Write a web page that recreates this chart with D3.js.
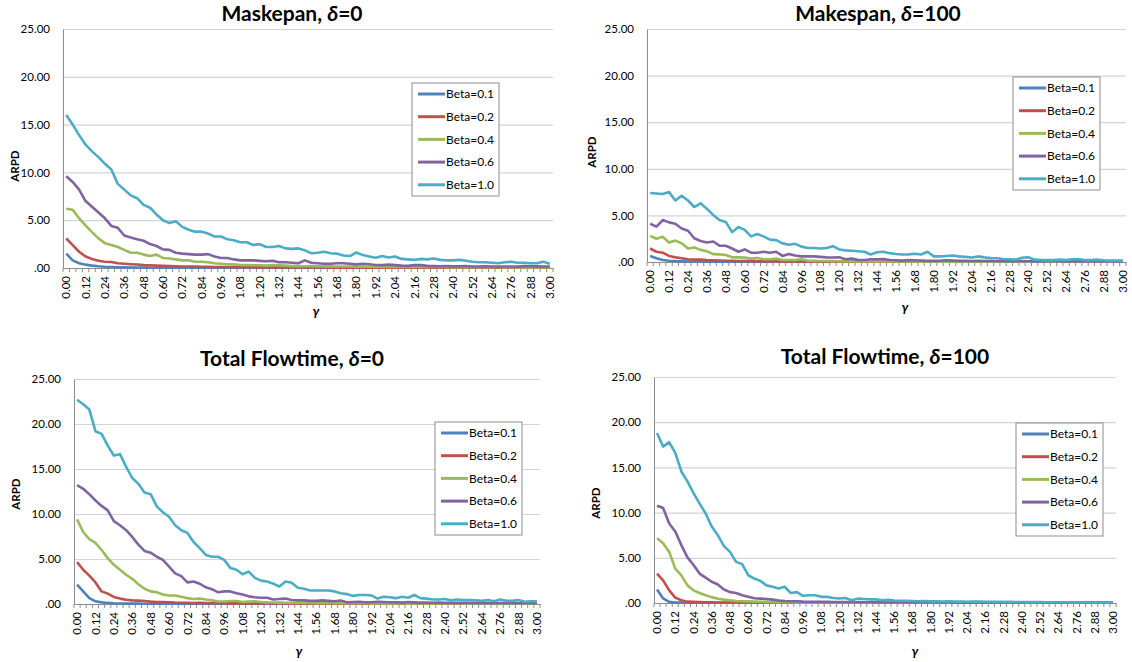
<!DOCTYPE html>
<html>
<head>
<meta charset="utf-8">
<script src="https://cdn.jsdelivr.net/npm/d3@7"></script>
<style>
  body { margin: 0; background: #fff; }
  svg { display: block; font-family: Lato, "Open Sans", sans-serif; }
</style>
</head>
<body>
<svg id="chart" width="1132" height="662"></svg>
<script>
// x categories (gamma)
const gamma = [0.00,0.04,0.08,0.12,0.16,0.20,0.24,0.28,0.32,0.36,
  0.40,0.44,0.48,0.52,0.56,0.60,0.64,0.68,0.72,0.76,
  0.80,0.84,0.88,0.92,0.96,1.00,1.04,1.08,1.12,1.16,
  1.20,1.24,1.28,1.32,1.36,1.40,1.44,1.48,1.52,1.56,
  1.60,1.64,1.68,1.72,1.76,1.80,1.84,1.88,1.92,1.96,
  2.00,2.04,2.08,2.12,2.16,2.20,2.24,2.28,2.32,2.36,
  2.40,2.44,2.48,2.52,2.56,2.60,2.64,2.68,2.72,2.76,
  2.80,2.84,2.88,2.92,2.96,3.00];

const betaLabels = ["Beta=0.1", "Beta=0.2", "Beta=0.4", "Beta=0.6", "Beta=1.0"];
const betaColors = ["#4F81BD", "#C0504D", "#9BBB59", "#8064A2", "#4BACC6"];
const yTicks = [0, 5, 10, 15, 20, 25];

// Makespan, delta = 0
const ms0_b01 = [1.50,0.80,0.50,0.35,0.25,0.18,0.13,0.10,0.08,0.07,
  0.06,0.05,0.05,0.04,0.04,0.04,0.03,0.03,0.03,0.03,
  0.03,0.03,0.03,0.03,0.02,0.02,0.02,0.02,0.02,0.02,
  0.02,0.02,0.02,0.02,0.02,0.02,0.02,0.02,0.02,0.02,
  0.02,0.02,0.02,0.02,0.02,0.02,0.02,0.02,0.02,0.02,
  0.02,0.02,0.02,0.02,0.02,0.02,0.02,0.02,0.02,0.02,
  0.02,0.02,0.02,0.02,0.02,0.02,0.02,0.02,0.02,0.02,
  0.02,0.02,0.02,0.02,0.02,0.02];
const ms0_b02 = [3.10,2.40,1.70,1.20,0.95,0.75,0.65,0.62,0.50,0.45,
  0.40,0.36,0.30,0.28,0.25,0.22,0.20,0.18,0.16,0.15,
  0.14,0.13,0.12,0.11,0.10,0.10,0.09,0.09,0.08,0.08,
  0.07,0.07,0.07,0.06,0.06,0.06,0.05,0.05,0.05,0.05,
  0.05,0.04,0.04,0.04,0.04,0.04,0.04,0.04,0.03,0.03,
  0.03,0.03,0.03,0.03,0.03,0.03,0.03,0.03,0.03,0.03,
  0.03,0.03,0.03,0.03,0.03,0.03,0.03,0.03,0.02,0.02,
  0.02,0.02,0.02,0.02,0.02,0.02];
const ms0_b04 = [6.20,6.10,5.20,4.45,3.75,3.10,2.60,2.40,2.20,1.90,
  1.60,1.60,1.40,1.25,1.40,1.05,1.00,0.90,0.80,0.80,
  0.65,0.65,0.60,0.50,0.45,0.40,0.38,0.32,0.30,0.28,
  0.28,0.25,0.30,0.28,0.25,0.20,0.20,0.18,0.20,0.18,
  0.17,0.18,0.16,0.15,0.15,0.14,0.15,0.13,0.12,0.13,
  0.12,0.12,0.11,0.12,0.10,0.10,0.11,0.10,0.10,0.09,
  0.10,0.09,0.09,0.08,0.09,0.08,0.08,0.08,0.07,0.08,
  0.07,0.07,0.08,0.07,0.07,0.07];
const ms0_b06 = [9.60,9.00,8.20,7.00,6.40,5.80,5.20,4.40,4.20,3.40,
  3.20,3.00,2.85,2.50,2.30,1.95,1.90,1.60,1.50,1.45,
  1.40,1.40,1.45,1.20,1.05,1.05,0.90,0.80,0.80,0.80,
  0.75,0.70,0.75,0.60,0.60,0.55,0.50,0.80,0.55,0.50,
  0.45,0.45,0.50,0.50,0.45,0.38,0.45,0.40,0.32,0.30,
  0.35,0.30,0.25,0.22,0.30,0.30,0.22,0.20,0.18,0.20,
  0.17,0.18,0.20,0.16,0.15,0.17,0.15,0.14,0.16,0.15,
  0.14,0.20,0.18,0.17,0.16,0.15];
const ms0_b10 = [16.0,15.0,13.9,12.9,12.2,11.6,10.9,10.3,8.80,8.20,
  7.60,7.30,6.60,6.30,5.60,5.00,4.70,4.90,4.30,4.00,
  3.80,3.80,3.60,3.30,3.30,3.00,2.90,2.70,2.70,2.40,
  2.50,2.20,2.20,2.30,2.05,2.00,2.05,1.85,1.55,1.60,
  1.70,1.55,1.50,1.30,1.25,1.62,1.35,1.20,1.08,1.25,
  1.10,1.20,0.95,0.90,0.85,0.95,0.90,1.00,0.85,0.80,
  0.80,0.85,0.75,0.65,0.60,0.60,0.55,0.50,0.60,0.65,
  0.55,0.55,0.50,0.50,0.65,0.45];

// Makespan, delta = 100
const ms100_b01 = [0.65,0.40,0.22,0.14,0.10,0.08,0.06,0.05,0.05,0.04,
  0.04,0.04,0.03,0.03,0.03,0.03,0.03,0.03,0.03,0.03,
  0.02,0.02,0.02,0.02,0.02,0.02,0.02,0.02,0.02,0.02,
  0.02,0.02,0.02,0.02,0.02,0.02,0.02,0.02,0.02,0.02,
  0.02,0.02,0.02,0.02,0.02,0.02,0.02,0.02,0.02,0.02,
  0.02,0.02,0.02,0.02,0.02,0.02,0.02,0.02,0.02,0.02,
  0.02,0.02,0.02,0.02,0.02,0.02,0.02,0.02,0.02,0.02,
  0.02,0.02,0.02,0.02,0.02,0.02];
const ms100_b02 = [1.45,1.10,1.00,0.65,0.50,0.40,0.30,0.25,0.25,0.20,
  0.18,0.15,0.13,0.12,0.10,0.10,0.09,0.08,0.08,0.07,
  0.07,0.06,0.06,0.06,0.05,0.05,0.05,0.05,0.04,0.04,
  0.04,0.04,0.04,0.04,0.04,0.03,0.03,0.03,0.03,0.03,
  0.03,0.03,0.03,0.03,0.03,0.03,0.03,0.03,0.03,0.03,
  0.03,0.03,0.03,0.03,0.03,0.03,0.03,0.03,0.03,0.03,
  0.03,0.03,0.03,0.03,0.03,0.03,0.03,0.03,0.03,0.03,
  0.03,0.03,0.03,0.03,0.03,0.03];
const ms100_b04 = [2.80,2.50,2.70,2.10,2.30,2.00,1.45,1.55,1.30,1.15,
  0.85,0.82,0.75,0.50,0.50,0.47,0.36,0.43,0.30,0.30,
  0.36,0.22,0.22,0.22,0.30,0.15,0.12,0.10,0.10,0.09,
  0.08,0.08,0.07,0.07,0.06,0.06,0.06,0.05,0.05,0.05,
  0.05,0.05,0.05,0.04,0.04,0.04,0.04,0.04,0.04,0.04,
  0.04,0.04,0.04,0.04,0.04,0.03,0.03,0.03,0.03,0.03,
  0.03,0.03,0.03,0.03,0.03,0.03,0.03,0.03,0.03,0.03,
  0.03,0.03,0.03,0.03,0.03,0.03];
const ms100_b06 = [4.10,3.80,4.50,4.25,4.10,3.60,3.35,2.55,2.25,2.10,
  2.20,1.75,1.75,1.45,1.10,1.35,1.00,1.00,1.10,1.00,
  1.10,0.65,0.85,0.70,0.60,0.60,0.60,0.55,0.50,0.48,
  0.50,0.30,0.36,0.22,0.22,0.30,0.30,0.32,0.22,0.18,
  0.15,0.20,0.18,0.15,0.12,0.12,0.14,0.18,0.15,0.12,
  0.12,0.10,0.12,0.10,0.10,0.08,0.10,0.08,0.08,0.10,
  0.08,0.07,0.07,0.08,0.10,0.07,0.06,0.07,0.08,0.06,
  0.06,0.08,0.06,0.05,0.06,0.05];
const ms100_b10 = [7.40,7.35,7.30,7.50,6.60,7.10,6.60,5.90,6.30,5.70,
  5.05,4.50,4.30,3.20,3.75,3.45,2.75,3.00,2.75,2.40,
  2.35,2.00,1.85,1.95,1.65,1.50,1.50,1.45,1.50,1.70,
  1.35,1.25,1.20,1.15,1.10,0.80,1.05,1.10,0.95,0.85,
  0.80,0.82,0.88,0.80,1.10,0.60,0.60,0.65,0.70,0.60,
  0.55,0.48,0.60,0.50,0.42,0.40,0.32,0.30,0.25,0.45,
  0.50,0.25,0.20,0.20,0.20,0.25,0.22,0.30,0.30,0.20,
  0.20,0.25,0.18,0.15,0.15,0.15];

// Total flowtime, delta = 0
const ft0_b01 = [2.15,1.40,0.66,0.30,0.18,0.12,0.08,0.06,0.05,0.04,
  0.04,0.03,0.03,0.03,0.03,0.03,0.02,0.02,0.02,0.02,
  0.02,0.02,0.02,0.02,0.02,0.02,0.02,0.02,0.02,0.02,
  0.02,0.02,0.02,0.02,0.02,0.02,0.02,0.02,0.02,0.02,
  0.02,0.02,0.02,0.02,0.02,0.02,0.02,0.02,0.02,0.02,
  0.02,0.02,0.02,0.02,0.02,0.02,0.02,0.02,0.02,0.02,
  0.02,0.02,0.02,0.02,0.02,0.02,0.02,0.02,0.02,0.02,
  0.02,0.02,0.02,0.02,0.02,0.02];
const ft0_b02 = [4.65,3.80,3.15,2.40,1.40,1.15,0.78,0.60,0.48,0.40,
  0.37,0.33,0.26,0.22,0.22,0.18,0.15,0.14,0.12,0.11,
  0.12,0.10,0.09,0.08,0.08,0.07,0.07,0.06,0.06,0.06,
  0.08,0.05,0.05,0.05,0.05,0.04,0.04,0.04,0.04,0.04,
  0.04,0.04,0.04,0.03,0.03,0.03,0.03,0.03,0.03,0.03,
  0.03,0.03,0.03,0.03,0.03,0.03,0.03,0.03,0.03,0.03,
  0.03,0.03,0.03,0.03,0.03,0.03,0.03,0.03,0.03,0.03,
  0.03,0.03,0.03,0.03,0.03,0.03];
const ft0_b04 = [9.40,8.00,7.20,6.80,6.00,5.10,4.35,3.80,3.25,2.80,
  2.20,1.70,1.40,1.30,1.05,0.95,0.95,0.80,0.65,0.55,
  0.62,0.50,0.40,0.28,0.28,0.33,0.33,0.22,0.26,0.30,
  0.22,0.18,0.16,0.15,0.14,0.13,0.12,0.12,0.11,0.10,
  0.10,0.12,0.09,0.09,0.08,0.08,0.10,0.08,0.07,0.07,
  0.07,0.06,0.07,0.06,0.06,0.06,0.05,0.05,0.06,0.05,
  0.05,0.05,0.05,0.04,0.05,0.04,0.04,0.04,0.04,0.04,
  0.04,0.04,0.03,0.03,0.03,0.03];
const ft0_b06 = [13.2,12.8,12.2,11.5,10.9,10.4,9.20,8.75,8.20,7.45,
  6.60,5.90,5.70,5.25,4.90,4.15,3.40,3.10,2.40,2.50,
  2.25,1.85,1.65,1.30,1.40,1.40,1.20,1.05,0.85,0.75,
  0.70,0.70,0.50,0.55,0.60,0.45,0.40,0.40,0.35,0.35,
  0.40,0.35,0.30,0.38,0.20,0.22,0.25,0.20,0.20,0.25,
  0.22,0.20,0.20,0.15,0.22,0.18,0.15,0.15,0.14,0.15,
  0.13,0.12,0.14,0.12,0.12,0.10,0.12,0.10,0.10,0.10,
  0.10,0.09,0.10,0.09,0.09,0.08];
const ft0_b10 = [22.7,22.2,21.6,19.2,18.9,17.6,16.5,16.65,15.25,14.0,
  13.35,12.4,12.2,10.85,10.2,9.70,8.75,8.20,7.90,6.90,
  6.20,5.45,5.25,5.25,4.90,4.00,3.80,3.30,3.60,2.90,
  2.60,2.50,2.25,1.95,2.50,2.35,1.80,1.70,1.50,1.50,
  1.50,1.50,1.40,1.20,1.10,0.90,1.00,1.00,0.95,0.60,
  0.80,0.75,0.65,0.80,0.70,1.00,0.65,0.60,0.50,0.50,
  0.55,0.40,0.50,0.45,0.45,0.40,0.35,0.45,0.30,0.50,
  0.35,0.35,0.45,0.25,0.30,0.30];

// Total flowtime, delta = 100
const ft100_b01 = [1.50,0.50,0.12,0.05,0.04,0.03,0.03,0.02,0.02,0.02,
  0.02,0.02,0.02,0.02,0.02,0.02,0.02,0.02,0.02,0.02,
  0.02,0.02,0.02,0.02,0.02,0.02,0.02,0.02,0.02,0.02,
  0.02,0.02,0.02,0.02,0.02,0.02,0.02,0.02,0.02,0.02,
  0.02,0.02,0.02,0.02,0.02,0.02,0.02,0.02,0.02,0.02,
  0.02,0.02,0.02,0.02,0.02,0.02,0.02,0.02,0.02,0.02,
  0.02,0.02,0.02,0.02,0.02,0.02,0.02,0.02,0.02,0.02,
  0.02,0.02,0.02,0.02,0.02,0.02];
const ft100_b02 = [3.25,2.50,1.40,0.60,0.30,0.15,0.12,0.10,0.08,0.07,
  0.06,0.05,0.05,0.04,0.04,0.04,0.03,0.03,0.03,0.03,
  0.03,0.03,0.03,0.03,0.02,0.02,0.02,0.02,0.02,0.02,
  0.02,0.02,0.02,0.02,0.02,0.02,0.02,0.02,0.02,0.02,
  0.02,0.02,0.02,0.02,0.02,0.02,0.02,0.02,0.02,0.02,
  0.02,0.02,0.02,0.02,0.02,0.02,0.02,0.02,0.02,0.02,
  0.02,0.02,0.02,0.02,0.02,0.02,0.02,0.02,0.02,0.02,
  0.02,0.02,0.02,0.02,0.02,0.02];
const ft100_b04 = [7.15,6.60,5.65,3.80,3.05,1.95,1.40,1.10,0.85,0.65,
  0.48,0.37,0.30,0.22,0.20,0.18,0.15,0.13,0.12,0.10,
  0.09,0.08,0.08,0.07,0.06,0.06,0.05,0.05,0.05,0.04,
  0.04,0.04,0.04,0.04,0.03,0.03,0.03,0.03,0.03,0.03,
  0.03,0.03,0.03,0.03,0.03,0.03,0.03,0.02,0.02,0.02,
  0.02,0.02,0.02,0.02,0.02,0.02,0.02,0.02,0.02,0.02,
  0.02,0.02,0.02,0.02,0.02,0.02,0.02,0.02,0.02,0.02,
  0.02,0.02,0.02,0.02,0.02,0.02];
const ft100_b06 = [10.75,10.5,8.80,7.90,6.40,5.05,4.20,3.25,2.80,2.35,
  2.05,1.50,1.20,1.10,0.85,0.68,0.52,0.48,0.45,0.37,
  0.27,0.22,0.20,0.20,0.15,0.14,0.14,0.12,0.12,0.11,
  0.10,0.10,0.09,0.09,0.08,0.08,0.07,0.07,0.07,0.06,
  0.06,0.06,0.06,0.05,0.05,0.05,0.05,0.05,0.05,0.04,
  0.04,0.04,0.04,0.04,0.04,0.04,0.04,0.04,0.03,0.03,
  0.03,0.03,0.03,0.03,0.03,0.03,0.03,0.03,0.03,0.03,
  0.03,0.03,0.03,0.03,0.03,0.03];
const ft100_b10 = [18.8,17.3,17.8,16.6,14.55,13.45,12.15,11.0,9.90,8.45,
  7.50,6.30,5.65,4.55,4.30,3.07,2.70,2.45,1.95,1.80,
  1.60,1.80,1.10,1.20,0.80,0.85,0.85,0.68,0.68,0.56,
  0.50,0.56,0.30,0.48,0.44,0.40,0.40,0.30,0.35,0.28,
  0.25,0.25,0.22,0.20,0.22,0.18,0.18,0.17,0.18,0.15,
  0.15,0.14,0.15,0.16,0.13,0.12,0.13,0.12,0.14,0.11,
  0.10,0.10,0.11,0.10,0.09,0.08,0.08,0.09,0.07,0.07,
  0.06,0.06,0.06,0.05,0.05,0.05];

// layout of the four charts
const panels = [
  { title: ["Maskepan, ", "\u03b4", "=0"], series: [ms0_b01, ms0_b02, ms0_b04, ms0_b06, ms0_b10],
    left: 63, right: 553, top: 29, bottom: 268, titleX: 292, titleY: 21,
    legendX: 412, legendY: 83, gammaX: 316, gammaY: 316, arpdX: 19, arpdY: 166 },
  { title: ["Makespan, ", "\u03b4", "=100"], series: [ms100_b01, ms100_b02, ms100_b04, ms100_b06, ms100_b10],
    left: 647, right: 1126, top: 29, bottom: 262, titleX: 878, titleY: 21,
    legendX: 1013, legendY: 77, gammaX: 905, gammaY: 312, arpdX: 596, arpdY: 152 },
  { title: ["Total Flowtime, ", "\u03b4", "=0"], series: [ft0_b01, ft0_b02, ft0_b04, ft0_b06, ft0_b10],
    left: 74, right: 540, top: 379, bottom: 604, titleX: 292, titleY: 366,
    legendX: 435, legendY: 422, gammaX: 299, gammaY: 656, arpdX: 20, arpdY: 494 },
  { title: ["Total Flowtime, ", "\u03b4", "=100"], series: [ft100_b01, ft100_b02, ft100_b04, ft100_b06, ft100_b10],
    left: 654, right: 1116, top: 377, bottom: 603, titleX: 885, titleY: 364,
    legendX: 1016, legendY: 423, gammaX: 915, gammaY: 656, arpdX: 600, arpdY: 503 }
];

const svg = d3.select("#chart");

svg.append("rect").attr("width", 1132).attr("height", 662).attr("fill", "#fff");

panels.forEach(p => {
  const g = svg.append("g");

  const x = d3.scaleBand().domain(gamma).range([p.left, p.right]);
  const y = d3.scaleLinear().domain([0, 25]).range([p.bottom, p.top]);

  // horizontal gridlines
  g.append("g")
    .attr("transform", `translate(${p.left},0)`)
    .call(d3.axisLeft(y).tickValues(yTicks.slice(1)).tickSize(-(p.right - p.left)).tickFormat(""))
    .call(s => s.select(".domain").remove())
    .call(s => s.selectAll("line").attr("stroke", "#d4d4d4").attr("stroke-width", 1.2));

  // y axis
  const yAxis = g.append("g")
    .attr("transform", `translate(${p.left},0)`)
    .call(d3.axisLeft(y).tickValues(yTicks).tickSize(0).tickSizeOuter(0).tickPadding(13)
      .tickFormat(d => d === 0 ? ".00" : d.toFixed(2)));
  yAxis.select(".domain").attr("stroke", "#8c8c8c");
  yAxis.selectAll("text").attr("font-size", 11.5).attr("fill", "#000")
    .attr("font-family", "Lato, sans-serif");

  // category tick marks between categories
  const edges = gamma.map(d => x(d)).concat([x.range()[1]]);
  g.append("g").selectAll("line")
    .data(edges)
    .join("line")
    .attr("x1", d => d).attr("x2", d => d)
    .attr("y1", p.bottom).attr("y2", p.bottom + 4)
    .attr("stroke", "#8c8c8c");

  // x axis
  const xAxis = g.append("g")
    .attr("transform", `translate(0,${p.bottom})`)
    .call(d3.axisBottom(x).tickValues(gamma.filter((d, i) => i % 3 === 0))
      .tickSize(0).tickSizeOuter(0).tickFormat(d => d.toFixed(2)));
  xAxis.select(".domain").attr("stroke", "#8c8c8c");
  xAxis.selectAll("text")
    .attr("transform", "rotate(-90)")
    .attr("text-anchor", "end")
    .attr("x", -8).attr("y", 0).attr("dy", "0.36em")
    .attr("font-size", 11.5).attr("fill", "#000")
    .attr("font-family", "Lato, sans-serif");

  // series
  const line = d3.line()
    .x((d, i) => x(gamma[i]) + x.bandwidth() / 2)
    .y(d => y(d));
  p.series.forEach((s, k) => {
    g.append("path")
      .datum(s)
      .attr("d", line)
      .attr("fill", "none")
      .attr("stroke", betaColors[k])
      .attr("stroke-width", 2.6)
      .attr("stroke-linejoin", "round");
  });

  // title
  const t = g.append("text")
    .attr("x", p.titleX).attr("y", p.titleY)
    .attr("text-anchor", "middle")
    .attr("font-size", 21).attr("font-weight", "bold").attr("fill", "#000");
  t.append("tspan").text(p.title[0]);
  t.append("tspan").attr("font-style", "italic").text(p.title[1]);
  t.append("tspan").text(p.title[2]);

  // axis titles
  g.append("text")
    .attr("x", p.gammaX).attr("y", p.gammaY)
    .attr("text-anchor", "middle")
    .attr("font-size", 13).attr("font-style", "italic").attr("font-weight", "bold")
    .text("\u03b3");
  g.append("text")
    .attr("transform", `translate(${p.arpdX},${p.arpdY}) rotate(-90)`)
    .attr("text-anchor", "middle")
    .attr("font-size", 11.5).attr("font-weight", "bold")
    .text("ARPD");

  // legend
  const lg = g.append("g").attr("transform", `translate(${p.legendX},${p.legendY})`);
  lg.append("rect")
    .attr("width", 87).attr("height", 113)
    .attr("fill", "#fff").attr("stroke", "#8c8c8c");
  const item = lg.selectAll(".item")
    .data(betaLabels)
    .join("g")
    .attr("transform", (d, i) => `translate(0,${11 + i * 22.7})`);
  item.append("line")
    .attr("x1", 6).attr("x2", 33)
    .attr("stroke", (d, i) => betaColors[i]).attr("stroke-width", 3);
  item.append("text")
    .attr("x", 34).attr("dy", "0.36em")
    .attr("font-size", 12).attr("fill", "#000")
    .text(d => d);
});
</script>
</body>
</html>
